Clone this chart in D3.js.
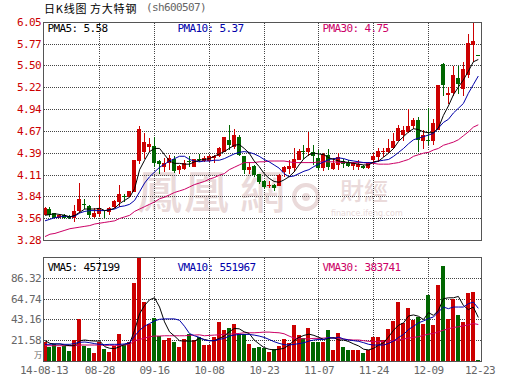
<!DOCTYPE html>
<html><head><meta charset="utf-8">
<style>html,body{margin:0;padding:0;background:#fff}svg{display:block}
text{font-family:"DejaVu Sans Mono",monospace;font-size:11px;letter-spacing:-0.62px}
.cjk{font-family:"Noto Sans CJK SC";font-size:11px;letter-spacing:0.8px}
.wm{font-family:"Noto Sans CJK TC";letter-spacing:0;fill:#eadada;font-weight:500}
</style></head><body><div id="c"></div>
<script src="https://cdn.jsdelivr.net/npm/d3@7"></script>
<script>
const opens=[3.60,3.68,3.63,3.57,3.61,3.59,3.56,3.65,3.75,3.72,3.58,3.62,3.67,3.64,3.70,3.77,3.85,3.83,3.90,4.29,4.40,4.47,4.48,4.29,4.21,4.26,4.32,4.17,4.19,4.29,4.22,4.32,4.29,4.29,4.33,4.35,4.41,4.56,4.47,4.59,4.35,4.18,4.23,4.12,4.04,3.97,3.99,3.97,4.15,4.19,4.20,4.30,4.42,4.40,4.40,4.33,4.20,4.37,4.19,4.24,4.29,4.27,4.23,4.22,4.23,4.20,4.30,4.34,4.40,4.40,4.45,4.54,4.62,4.66,4.74,4.81,4.55,4.56,4.54,4.68,5.52,5.13,5.16,5.34,5.21,5.38,5.76,5.64];
const closes=[3.69,3.61,3.56,3.61,3.57,3.56,3.66,3.81,3.73,3.60,3.63,3.69,3.65,3.69,3.78,3.87,3.84,3.91,4.30,4.70,4.53,4.50,4.26,4.25,4.26,4.33,4.16,4.23,4.27,4.28,4.31,4.31,4.33,4.36,4.36,4.46,4.59,4.49,4.62,4.37,4.18,4.22,4.11,4.02,3.96,3.98,3.95,4.11,4.22,4.23,4.32,4.42,4.40,4.45,4.35,4.20,4.38,4.22,4.26,4.34,4.25,4.23,4.26,4.25,4.20,4.27,4.36,4.42,4.42,4.46,4.54,4.71,4.68,4.74,4.81,4.56,4.62,4.55,4.77,5.26,5.26,5.16,5.38,5.27,5.46,5.79,5.81,5.63];
const highs=[3.70,3.70,3.63,3.62,3.62,3.60,3.73,4.01,3.81,3.73,3.69,3.86,3.67,3.70,3.80,3.99,3.87,3.91,4.30,4.73,4.64,4.58,4.60,4.30,4.33,4.37,4.35,4.24,4.30,4.35,4.32,4.38,4.35,4.37,4.37,4.47,4.60,4.75,4.70,4.62,4.36,4.28,4.24,4.13,4.05,4.03,4.00,4.12,4.23,4.30,4.45,4.44,4.49,4.66,4.49,4.43,4.39,4.44,4.33,4.39,4.32,4.30,4.28,4.30,4.24,4.28,4.39,4.45,4.45,4.57,4.64,4.75,4.74,4.95,4.84,4.85,4.68,4.96,4.82,5.26,5.54,5.23,5.50,5.50,5.55,5.90,6.05,5.64];
const lows=[3.60,3.58,3.56,3.56,3.55,3.55,3.52,3.63,3.68,3.57,3.57,3.58,3.56,3.60,3.69,3.70,3.77,3.83,3.90,4.25,4.32,4.40,4.22,4.12,4.15,4.18,4.14,4.13,4.18,4.22,4.21,4.28,4.28,4.28,4.26,4.34,4.40,4.43,4.44,4.36,4.13,4.13,4.09,4.00,3.93,3.95,3.91,3.97,4.09,4.13,4.15,4.30,4.32,4.35,4.24,4.18,4.16,4.18,4.18,4.17,4.20,4.22,4.18,4.18,4.19,4.19,4.25,4.28,4.34,4.39,4.44,4.54,4.55,4.65,4.70,4.41,4.44,4.49,4.49,4.68,5.11,5.01,5.11,5.14,5.12,5.35,5.55,5.63];
const pma5=[3.60,3.61,3.62,3.61,3.60,3.58,3.60,3.64,3.68,3.68,3.68,3.69,3.66,3.67,3.69,3.75,3.79,3.83,3.94,4.18,4.30,4.41,4.45,4.45,4.37,4.29,4.26,4.26,4.25,4.25,4.28,4.30,4.31,4.32,4.35,4.38,4.41,4.45,4.49,4.50,4.45,4.39,4.29,4.22,4.13,4.07,4.03,4.02,4.05,4.09,4.15,4.24,4.32,4.37,4.39,4.38,4.37,4.33,4.31,4.29,4.28,4.27,4.26,4.25,4.24,4.24,4.28,4.29,4.34,4.39,4.45,4.54,4.60,4.66,4.70,4.69,4.66,4.65,4.65,4.71,4.87,4.99,5.13,5.23,5.32,5.43,5.55,5.58];
const pma10=[3.53,3.55,3.57,3.58,3.59,3.58,3.59,3.63,3.65,3.66,3.66,3.66,3.66,3.67,3.68,3.71,3.72,3.74,3.79,3.90,4.01,4.09,4.15,4.21,4.25,4.29,4.32,4.35,4.35,4.31,4.29,4.28,4.29,4.29,4.30,4.30,4.32,4.35,4.38,4.40,4.41,4.40,4.38,4.35,4.31,4.28,4.24,4.20,4.13,4.09,4.10,4.13,4.16,4.18,4.22,4.25,4.28,4.31,4.32,4.33,4.32,4.30,4.29,4.28,4.27,4.27,4.27,4.29,4.30,4.31,4.35,4.40,4.45,4.51,4.56,4.58,4.60,4.62,4.64,4.71,4.78,4.82,4.90,4.96,5.02,5.15,5.26,5.37];
const pma30=[3.33,3.36,3.37,3.39,3.41,3.43,3.44,3.45,3.46,3.47,3.49,3.50,3.51,3.52,3.53,3.56,3.58,3.60,3.65,3.68,3.71,3.74,3.77,3.81,3.83,3.86,3.89,3.91,3.93,3.96,3.99,4.01,4.03,4.06,4.08,4.11,4.13,4.18,4.21,4.24,4.27,4.27,4.27,4.28,4.28,4.29,4.29,4.29,4.29,4.28,4.27,4.27,4.27,4.27,4.27,4.28,4.28,4.28,4.28,4.27,4.27,4.27,4.27,4.27,4.27,4.26,4.26,4.25,4.25,4.25,4.26,4.27,4.29,4.31,4.35,4.37,4.39,4.40,4.43,4.45,4.49,4.51,4.53,4.56,4.61,4.66,4.72,4.75];
const volumes=[20.6,15.4,18.2,14.7,16.4,11,22.3,43.8,16.4,14,8.9,20.6,13,9.9,16.4,28.4,17.1,20.2,81.9,107.9,61.3,38.7,44.9,26.7,22.3,24.3,20.2,15.1,23.3,28.4,22.3,25.3,17.1,17.1,25.3,40.8,32.5,34.6,38.7,28.4,28.4,18.2,14,15.1,14,9.9,13,16.1,23.3,19.2,37.7,27.4,24.3,34.6,20.2,20.2,20.2,32.5,12,29.5,15.1,12,12,12,8.9,12,25.3,25.3,22.3,33.6,41.8,61.3,39.7,55.1,42.8,45.9,38.7,69.5,37.7,79.8,99.3,43.8,64.4,48,40.8,70.6,71.6,1.7];
const vma5=[21.6,18.8,18.2,18.2,17.1,16.4,16.4,21.6,22.3,21.6,21.2,21.2,15.4,13.7,13.4,15.4,17.8,18.8,32.5,49.7,58.2,64,66.1,56.5,41.1,30.8,26.4,21.6,21.2,21.2,21.2,24,22.9,21.6,21.6,24,26.4,30.8,34.3,33.9,30.8,29.1,22.3,18.2,14.4,12.7,12,12.7,13.7,17.1,21.6,25,27.1,28.4,27.1,25,22.9,24,24.7,22.3,22.3,20.6,18.2,16.1,12.7,12,13.7,17.1,19.5,25.7,32.5,37.7,40.1,47.3,48.3,46.9,43.5,50.7,47.9,53.1,65.1,66.1,66.1,67.5,58.2,53.8,56.5,45.7];
const vma10=[17.8,17.8,18.2,18.2,17.8,17.8,18.8,19.9,20.2,19.5,18.5,17.8,17.5,17.8,17.8,17.8,18.2,19.5,26.4,32.5,36.6,39.4,42.1,43.8,44.2,44.2,44.2,42.8,36.6,29.1,26.7,25,22.3,21.6,21.6,22.9,24,26.4,27.4,28.1,28.1,28.1,27.4,26.4,25,22.9,20.6,18.8,17.5,17.1,17.8,18.5,19.5,21.2,22.3,22.9,22.9,25,24,25.3,23.3,22.3,21.6,20.9,19.5,17.8,17.1,17.1,17.1,18.8,21.2,25,28.1,33.2,36.6,40.1,42.1,44.5,46.2,51.4,56.5,54.8,56.5,56.5,56.5,59.9,61.7,55.2];
const vma30=[16.4,16.4,16.4,16.4,16.4,16.4,16.4,17.1,17.1,17.1,17.1,17.1,16.8,16.8,16.8,16.8,17.1,17.8,21.6,22.9,24.3,25.7,26.4,26.4,26.7,26.7,26.7,26.7,26.7,27.1,27.4,27.7,26.7,27.1,27.4,27.7,28.1,28.4,28.8,29.1,29.8,29.8,29.8,30.1,30.5,30.5,30.1,29.8,28.8,26.4,24.3,23.6,23.6,23.6,24,24,24.3,24.7,24.7,24,23.3,22.6,22.3,22.3,21.6,20.9,20.6,20.6,20.9,21.2,21.6,22.3,23.3,24.3,25,25.7,27.1,28.4,29.1,30.8,32.5,33.9,35.3,36,37,38,39.4,38.4];
const priceTicks=[6.05,5.77,5.50,5.22,4.94,4.67,4.39,4.11,3.84,3.56,3.28];
const volTicks=[86.32,64.74,43.16,21.58];
const xTickIdx=[0,11,22,33,44,55,66,77,87];
const xTickLabels=["14-08-13","08-28","09-16","10-08","10-23","11-07","11-24","12-09","12-23"];
const priceLegend=["PMA5: 5.58","PMA10: 5.37","PMA30: 4.75"];
const volLegend=["VMA5: 457199","VMA10: 551967","VMA30: 383741"];
const titleMain=["日K线图","方大特钢"];
const titleCode="(sh600507)";

const RED="#cc0000",GREEN="#006600",BLACK="#000",BLUE="#0000aa",PINK="#cc0066",FRAME="#555",GRAY="#666";
const L=43.5,R=481.5,T1=22.5,B1=240.5,T2=257.5,B2=361.5;
const legendX=[47.5,177.5,322.5],legendColors=[BLACK,BLUE,PINK];
const svg=d3.select("#c").append("svg").attr("width",530).attr("height",391);
const x=d3.scaleLinear().domain([0,87]).range([45,478.3]);
const y=d3.scaleLinear().domain([3.28,6.05]).range([B1,T1]);
const v=d3.scaleLinear().domain([0,107.9]).range([B2,T2]);
const crisp=p=>Math.floor(p)+.5;
const idx=d3.range(opens.length);

// watermark
const wm=svg.append("g");
wm.selectAll("text.big").data([["鳳",137],["凰",184],["網",240]]).join("text").attr("class","wm")
  .attr("x",d=>d[1]).attr("y",209).style("font-size","45px").text(d=>d[0]);
wm.selectAll("text.small").data([["財",340],["經",364]]).join("text").attr("class","wm")
  .attr("x",d=>d[1]).attr("y",200).style("font-size","24px").text(d=>d[0]);
wm.selectAll("circle").data([[12,"none",4],[4,"#eadada",0]]).join("circle")
  .attr("cx",306).attr("cy",197).attr("r",d=>d[0]).attr("fill",d=>d[1]).attr("stroke","#eadada").attr("stroke-width",d=>d[2]);
wm.append("text").attr("class","wm").attr("x",331).attr("y",216).style("font-size","8px").style("font-family","DejaVu Sans").text("finance.ifeng.com");

// grids
const grid=svg.append("g").attr("stroke","#444").attr("stroke-dasharray","1,1").attr("shape-rendering","crispEdges");
grid.selectAll("line.h").data(priceTicks.slice(1,-1)).join("line").attr("x1",L).attr("x2",R).attr("y1",d=>crisp(y(d))).attr("y2",d=>crisp(y(d)));
grid.selectAll("line.v").data(volTicks,d=>d).join("line").attr("x1",L).attr("x2",R).attr("y1",d=>crisp(v(d))).attr("y2",d=>crisp(v(d)));
const vt=xTickIdx.slice(1,-1);
grid.selectAll("line.a").data(vt,d=>"a"+d).join("line").attr("x1",d=>crisp(x(d))).attr("x2",d=>crisp(x(d))).attr("y1",T1).attr("y2",B1);
grid.selectAll("line.b").data(vt,d=>"b"+d).join("line").attr("x1",d=>crisp(x(d))).attr("x2",d=>crisp(x(d))).attr("y1",T2).attr("y2",B2);

// candles
const col=i=>closes[i]>=opens[i]?RED:GREEN;
const cs=svg.append("g").attr("shape-rendering","crispEdges");
cs.selectAll("line").data(idx).join("line").attr("x1",i=>crisp(x(i))).attr("x2",i=>crisp(x(i))).attr("y1",i=>y(highs[i])).attr("y2",i=>y(lows[i])).attr("stroke",col);
cs.selectAll("rect").data(idx).join("rect").attr("x",i=>Math.floor(x(i))-2).attr("width",4)
  .attr("y",i=>y(Math.max(opens[i],closes[i]))).attr("height",i=>Math.max(1,Math.abs(y(opens[i])-y(closes[i])))).attr("fill",col);

// volume bars
svg.append("g").attr("shape-rendering","crispEdges").selectAll("rect").data(idx).join("rect")
  .attr("x",i=>Math.floor(x(i))-2).attr("width",4).attr("y",i=>v(volumes[i])).attr("height",i=>B2-v(volumes[i])).attr("fill",col);

// MA lines
const ln=(s,arr)=>d3.line().x((d,i)=>x(i)).y(d=>s(d))(arr);
[[y,pma30,PINK],[y,pma10,BLUE],[y,pma5,BLACK],[v,vma30,PINK],[v,vma5,BLACK],[v,vma10,BLUE]].forEach(([s,a,c])=>
  svg.append("path").attr("d",ln(s,a)).attr("fill","none").attr("stroke",c).attr("stroke-width",1));

// frames
svg.append("g").attr("shape-rendering","crispEdges").selectAll("rect").data([[T1,B1],[T2,B2]]).join("rect")
  .attr("x",L).attr("y",d=>d[0]).attr("width",R-L).attr("height",d=>d[1]-d[0]).attr("fill","none").attr("stroke",FRAME).attr("stroke-width",1);

// y axis labels
svg.append("g").selectAll("text").data(priceTicks).join("text").attr("x",41).attr("y",d=>y(d)+3.5).attr("text-anchor","end").attr("fill",RED).text(d=>d.toFixed(2));
svg.append("g").selectAll("text").data(volTicks).join("text").attr("x",41).attr("y",d=>v(d)+3.5).attr("text-anchor","end").attr("fill",GRAY).text(d=>d.toFixed(2));
svg.append("text").attr("class","cjk").attr("x",38).attr("y",358).attr("text-anchor","middle").attr("fill",GRAY).style("font-size","8px").style("letter-spacing","0").text("万");

// x labels
svg.append("g").selectAll("text").data(xTickIdx).join("text").attr("x",d=>d==87?480:x(d)-(d==0?1:0)).attr("y",374).attr("text-anchor","middle").attr("fill",GRAY).text((d,i)=>xTickLabels[i]);

// legends
[[priceLegend,32],[volLegend,271]].forEach(([a,yy])=>a.forEach((t,i)=>
  svg.append("text").attr("x",legendX[i]).attr("y",yy).attr("fill",legendColors[i]).text(t)));

// title
svg.append("text").attr("class","cjk").attr("x",44).attr("y",13).attr("fill","#000").text(titleMain[0]);
svg.append("text").attr("class","cjk").attr("x",90).attr("y",13).attr("fill","#000").text(titleMain[1]);
svg.append("text").attr("x",146).attr("y",11).attr("fill",GRAY).text(titleCode);
</script></body></html>
